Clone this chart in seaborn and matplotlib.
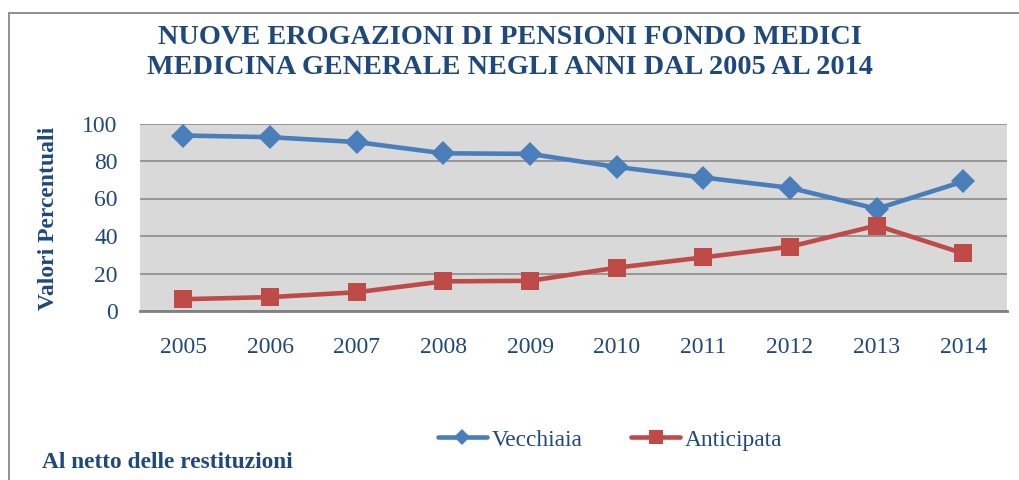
import matplotlib
matplotlib.use("Agg")
import matplotlib.pyplot as plt
from matplotlib.lines import Line2D
import seaborn as sns
import pandas as pd

years = [2005, 2006, 2007, 2008, 2009, 2010, 2011, 2012, 2013, 2014]
vecchiaia = [93.6, 92.7, 90.1, 84.1, 83.8, 76.8, 71.2, 65.7, 54.5, 69.1]
anticipata = [6.3, 7.4, 10.0, 15.8, 16.1, 23.1, 28.6, 34.3, 45.6, 30.7]
series = ["Vecchiaia", "Anticipata"]
yticks = [0, 20, 40, 60, 80, 100]

title = "NUOVE EROGAZIONI DI PENSIONI FONDO MEDICI\nMEDICINA GENERALE NEGLI ANNI DAL 2005 AL 2014"
ylabel = "Valori Percentuali"
note = "Al netto delle restituzioni"

df = pd.DataFrame({
    "Anno": years * 2,
    "Valore": vecchiaia + anticipata,
    "Serie": [series[0]] * len(years) + [series[1]] * len(years),
})

sns.set_theme(style="white")
plt.rcParams["font.family"] = ["Liberation Serif", "DejaVu Serif"]

navy = "#1F497D"
blue = "#4A7EBB"
red = "#BE4B48"
grid = "#8C8C8C"

fig = plt.figure(figsize=(10.19, 4.8), dpi=100)
ax = fig.add_axes([140 / 1019, 1 - 311 / 480, (1006.7 - 140) / 1019, (311 - 123.5) / 480])
ax.set_facecolor("#D9D9D9")

sns.lineplot(data=df, x="Anno", y="Valore", hue="Serie", style="Serie",
             hue_order=series, style_order=series,
             palette={series[0]: blue, series[1]: red},
             markers={series[0]: "D", series[1]: "s"}, dashes=False,
             linewidth=3.3, markeredgewidth=0, legend=False, ax=ax)
for ln in ax.lines:
    if ln.get_marker() == "D":
        ln.set_markersize(12)
    else:
        ln.set_markersize(13)

ax.set_xlim(2004.5, 2014.5)
ax.set_ylim(0, 100)
ax.set_xticks(years)
ax.set_xticklabels([str(y) for y in years])
ax.set_yticks(yticks)
ax.set_yticklabels([str(v) for v in yticks])
ax.yaxis.grid(True, color=grid, linewidth=1.2)
ax.xaxis.grid(False)
ax.set_axisbelow(True)
for s in ["top", "right", "left"]:
    ax.spines[s].set_visible(False)
ax.spines["bottom"].set_color("#808080")
ax.spines["bottom"].set_linewidth(2)
ax.spines["bottom"].set_zorder(1)
ax.tick_params(axis="both", length=0, labelsize=17, labelcolor=navy)
ax.tick_params(axis="y", pad=16)
ax.tick_params(axis="x", pad=19)
ax.set_xlabel("")
ax.set_ylabel("")

fig.text(48.5 / 1019, 1 - 218 / 480, ylabel, rotation=90, ha="center", va="center",
         fontsize=17, fontweight="bold", color=navy)

lines = title.split("\n")
fig.text(0.5, 1 - 44 / 480, lines[0], ha="center", va="baseline",
         fontsize=20.3, fontweight="bold", color=navy)
fig.text(0.5, 1 - 74 / 480, lines[1], ha="center", va="baseline",
         fontsize=20.3, fontweight="bold", color=navy)

fig.text(42 / 1019, 1 - 468 / 480, note, ha="left", va="baseline",
         fontsize=16.8, fontweight="bold", color=navy)

handles = [Line2D([], [], color=blue, lw=3.3, marker="D", markersize=8, mew=0),
           Line2D([], [], color=red, lw=3.3, marker="s", markersize=10, mew=0)]
leg = fig.legend(handles=handles, labels=series, loc="center",
                 bbox_to_anchor=(610 / 1019, 1 - 440 / 480), ncol=2, frameon=False,
                 fontsize=16.8, handlelength=2.1, handletextpad=0.2, columnspacing=2.1,
                 borderpad=0, borderaxespad=0)
for t in leg.get_texts():
    t.set_color(navy)

border_y = 1 - 12.5 / 480
border_x = 8.5 / 1019
fig.add_artist(Line2D([border_x, 1.0], [border_y, border_y], transform=fig.transFigure,
                      color="#888888", lw=1.3))
fig.add_artist(Line2D([border_x, border_x], [0, border_y], transform=fig.transFigure,
                      color="#888888", lw=1.3))

fig.savefig("out.png", dpi=100)
